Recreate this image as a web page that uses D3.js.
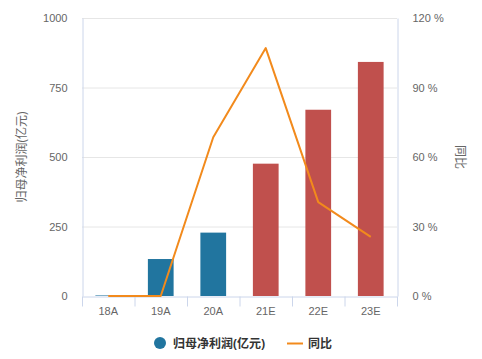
<!DOCTYPE html>
<html>
<head>
<meta charset="utf-8">
<title>归母净利润</title>
<style>
    body { margin: 0; background: #fff; }
    svg { display: block; font-family: "Open Sans", "Noto Sans CJK SC", sans-serif; }
    .tick text { fill: #666; font-size: 11px; }
</style>
</head>
<body>
<script src="https://d3js.org/d3.v7.min.js"></script>
<script>
    // data
    var categories = ['18A', '19A', '20A', '21E', '22E', '23E'];
    var profit = [2, 133, 228, 476, 670, 842];   // 亿元
    var growth = [0, 0, 68.5, 107, 40.5, 25.5];  // %
    var isEstimate = [false, false, false, true, true, true];
    var leftTicks = [0, 250, 500, 750, 1000];
    var rightTicks = [0, 30, 60, 90, 120];

    var w = 482, h = 359;
    var m = { left: 82, right: 85, top: 18, bottom: 63 };

    var svg = d3.select('body').append('svg').attr('width', w).attr('height', h);

    var x = d3.scaleBand().domain(categories).range([m.left, w - m.right]);
    var yL = d3.scaleLinear().domain([0, 1000]).range([h - m.bottom, m.top]);
    var yR = d3.scaleLinear().domain([0, 120]).range([h - m.bottom, m.top]);

    // grid
    svg.append('g').selectAll('line').data(leftTicks.slice(1)).join('line')
        .attr('x1', m.left).attr('x2', w - m.right)
        .attr('y1', function (d) { return yL(d) + 0.5; })
        .attr('y2', function (d) { return yL(d) + 0.5; })
        .attr('stroke', '#e6e6e6');

    // left axis
    var gl = svg.append('g').attr('transform', 'translate(' + (m.left + 0.5) + ',0)')
        .call(d3.axisLeft(yL).tickValues(leftTicks).tickSize(0).tickPadding(15)
            .tickFormat(function (d) { return String(d); }));
    gl.select('.domain').attr('stroke', '#ccd6eb');

    // right axis
    var gr = svg.append('g').attr('transform', 'translate(' + (w - m.right + 0.5) + ',0)')
        .call(d3.axisRight(yR).tickValues(rightTicks).tickSize(0).tickPadding(15)
            .tickFormat(function (d) { return d + ' %'; }));
    gr.select('.domain').attr('stroke', '#ccd6eb');

    // bottom axis
    var gb = svg.append('g').attr('transform', 'translate(0,' + (h - m.bottom + 0.5) + ')')
        .call(d3.axisBottom(x).tickSize(0).tickPadding(11));
    gb.select('.domain').attr('stroke', '#ccd6eb');
    gb.selectAll('.bound').data(categories.concat(['end'])).join('line')
        .attr('x1', function (d, i) { return m.left + i * x.step() + 0.5; })
        .attr('x2', function (d, i) { return m.left + i * x.step() + 0.5; })
        .attr('y1', 0).attr('y2', 10)
        .attr('stroke', '#ccd6eb');

    // axis titles
    svg.append('text')
        .attr('transform', 'translate(26,' + yL(500) + ') rotate(-90)')
        .attr('text-anchor', 'middle')
        .attr('fill', '#666').style('font-size', '12px')
        .text('归母净利润(亿元)');
    svg.append('text')
        .attr('transform', 'translate(456,' + yL(500) + ') rotate(90)')
        .attr('text-anchor', 'middle')
        .attr('fill', '#666').style('font-size', '12px')
        .text('同比');

    // bars
    var bw = x.bandwidth() * 0.49;
    svg.append('g').selectAll('rect').data(profit).join('rect')
        .attr('x', function (d, i) { return x(categories[i]) + (x.bandwidth() - bw) / 2; })
        .attr('y', function (d) { return yL(d); })
        .attr('width', bw)
        .attr('height', function (d) { return yL(0) - yL(d); })
        .attr('fill', function (d, i) { return isEstimate[i] ? '#c0504d' : '#21759f'; });

    // growth line
    var line = d3.line()
        .x(function (d, i) { return x(categories[i]) + x.bandwidth() / 2; })
        .y(function (d) { return yR(d); });
    svg.append('path').datum(growth)
        .attr('d', line)
        .attr('fill', 'none')
        .attr('stroke', '#f28a1c')
        .attr('stroke-width', 2)
        .attr('stroke-linejoin', 'round');

    // legend
    var lg = svg.append('g').style('font-size', '12px').style('font-weight', 'bold').attr('fill', '#333');
    lg.append('circle').attr('cx', 160).attr('cy', 343).attr('r', 6).attr('fill', '#21759f');
    lg.append('text').attr('x', 173).attr('y', 347.5).text('归母净利润(亿元)');
    lg.append('line').attr('x1', 287).attr('x2', 303).attr('y1', 343.5).attr('y2', 343.5)
        .attr('stroke', '#f28a1c').attr('stroke-width', 2);
    lg.append('text').attr('x', 308).attr('y', 347.5).text('同比');
</script>
</body>
</html>
